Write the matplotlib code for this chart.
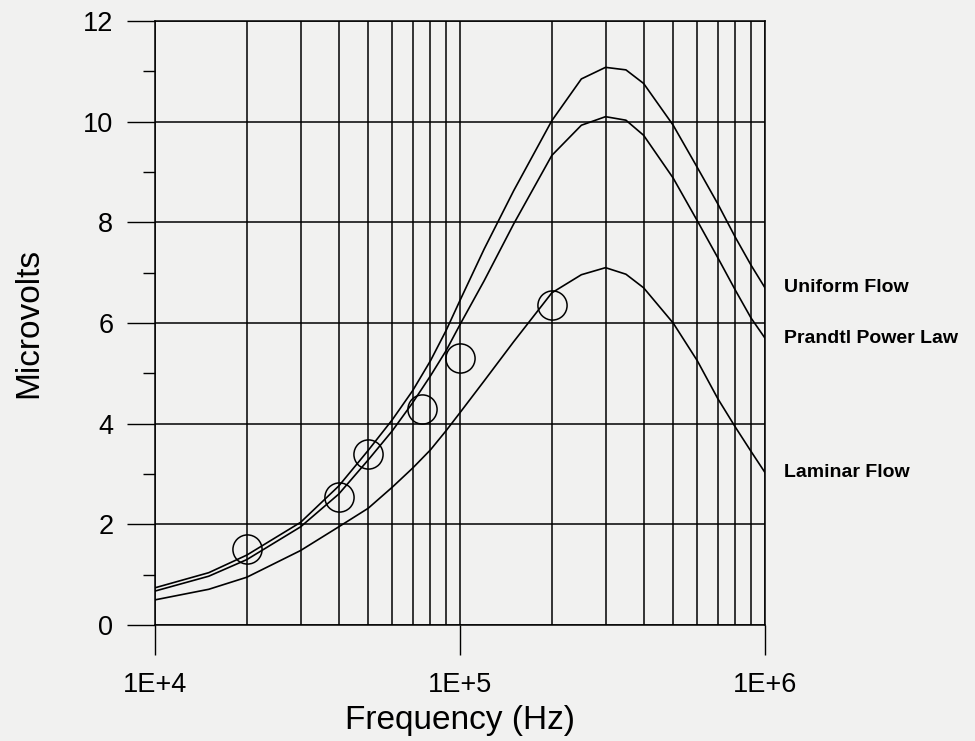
import matplotlib
matplotlib.use("Agg")
import matplotlib.pyplot as plt
from matplotlib.ticker import LogLocator, MultipleLocator, NullFormatter

plt.rcParams['font.family'] = ['Liberation Sans', 'DejaVu Sans']

# frequency grid shared by the three model curves (Hz)
freq = [1e4, 1.5e4, 2e4, 3e4, 4e4, 5e4, 6e4, 7e4, 8e4, 9e4, 1e5, 1.2e5, 1.5e5,
        2e5, 2.5e5, 3e5, 3.5e5, 4e5, 5e5, 6e5, 7e5, 8e5, 9e5, 1e6]

uniform = [0.74, 1.04, 1.39, 2.04, 2.76, 3.47, 4.08, 4.66, 5.25, 5.85, 6.45, 7.47, 8.63,
           10.02, 10.85, 11.08, 11.03, 10.76, 9.93, 9.09, 8.37, 7.70, 7.15, 6.70]
prandtl = [0.675, 0.97, 1.30, 1.95, 2.60, 3.28, 3.86, 4.42, 4.95, 5.45, 5.97, 6.84, 7.97,
           9.33, 9.93, 10.10, 10.03, 9.73, 8.88, 8.03, 7.30, 6.65, 6.10, 5.70]
laminar = [0.50, 0.71, 0.95, 1.48, 1.95, 2.32, 2.74, 3.12, 3.48, 3.86, 4.22, 4.85, 5.63,
           6.60, 6.96, 7.10, 6.97, 6.70, 6.00, 5.25, 4.50, 3.93, 3.45, 3.03]

# measured points
meas_f = [2e4, 4e4, 5e4, 7.5e4, 1e5, 2e5]
meas_v = [1.52, 2.54, 3.40, 4.29, 5.31, 6.36]

curve_names = ["Uniform Flow", "Prandtl Power Law", "Laminar Flow"]
xtick_vals = [1e4, 1e5, 1e6]
xtick_labels = ["1E+4", "1E+5", "1E+6"]

bg = '#f1f1f0'
fig = plt.figure(figsize=(9.75, 7.41), dpi=100, facecolor=bg)
ax = fig.add_axes([0.159, 0.1565, 0.6256, 0.8151], facecolor=bg)

for vals in (uniform, prandtl, laminar):
    ax.plot(freq, vals, color='black', lw=1.2, zorder=3)

ax.plot(meas_f, meas_v, linestyle='none', marker='o', markersize=21,
        markerfacecolor='none', markeredgecolor='black', markeredgewidth=1.1, zorder=4)

ax.set_xscale('log')
ax.set_xlim(1e4, 1e6)
ax.set_ylim(0, 12)
ax.set_xticks(xtick_vals, labels=xtick_labels)
ax.xaxis.set_minor_locator(LogLocator(base=10, subs=range(2, 10)))
ax.xaxis.set_minor_formatter(NullFormatter())
ax.yaxis.set_major_locator(MultipleLocator(2))
ax.yaxis.set_minor_locator(MultipleLocator(1))

ax.tick_params(axis='x', which='major', direction='out', length=21.5, width=1,
               labelsize=19.5, pad=12)
ax.tick_params(axis='x', which='minor', length=0)
ax.tick_params(axis='y', which='major', direction='out', length=20, width=1,
               labelsize=19.5, pad=10)
ax.tick_params(axis='y', which='minor', direction='out', length=9, width=1)

ax.grid(True, which='major', axis='both', color='black', lw=1.1)
ax.grid(True, which='minor', axis='x', color='black', lw=1.1)
for sp in ax.spines.values():
    sp.set_linewidth(1.1)
    sp.set_color('black')

ax.set_xlabel("Frequency (Hz)", fontsize=24, labelpad=5)
ax.set_ylabel("Microvolts", fontsize=24, labelpad=28)

# curve names beside the right edge, level with each curve's end
for name, vals in zip(curve_names, (uniform, prandtl, laminar)):
    ax.annotate(name, xy=(1, vals[-1]), xycoords=('axes fraction', 'data'),
                xytext=(14, 0), textcoords='offset points', ha='left', va='center',
                fontsize=14, fontweight='bold', annotation_clip=False)

fig.savefig("out.png", dpi=100, facecolor=bg)
